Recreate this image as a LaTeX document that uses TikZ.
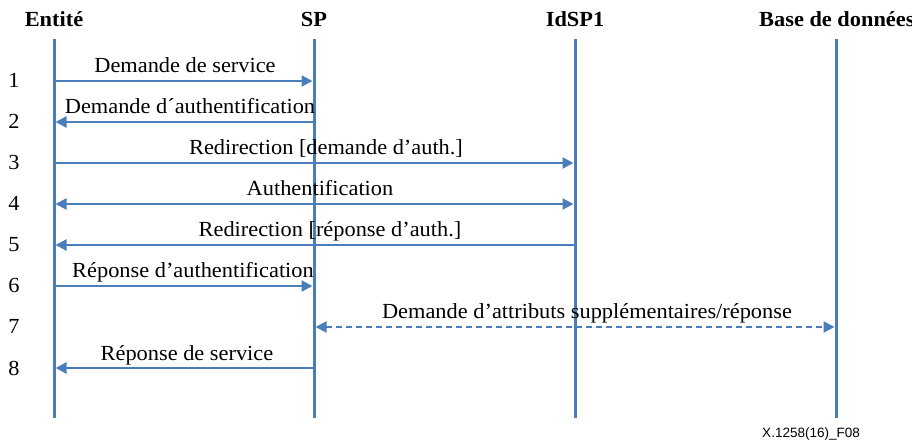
\documentclass[tikz,border=0pt]{standalone}
\usepackage{fontspec}
\setmainfont{Liberation Serif}[FakeStretch=1.04]
\newfontfamily\footfont{Liberation Sans}
\usetikzlibrary{arrows.meta}
\definecolor{seqblue}{HTML}{4A7EBB}
\tikzset{
  lifeline/.style={draw=seqblue, line width=3pt},
  msg/.style={draw=seqblue, line width=2.2pt,
    -{Triangle[length=11pt,width=11pt]}, shorten >=1.5pt},
  msgboth/.style={msg, {Triangle[length=11pt,width=11pt]}-{Triangle[length=11pt,width=11pt]}, shorten <=1.5pt},
  head/.style={font=\fontsize{21.5}{25}\selectfont\bfseries, anchor=base, inner sep=0pt},
  lbl/.style={font=\fontsize{21.5}{25}\selectfont, anchor=base, inner sep=0pt},
  num/.style={font=\fontsize{21.5}{25}\selectfont, anchor=base, inner sep=0pt},
}
\begin{document}
\begin{tikzpicture}[x=1pt, y=-1pt]
  \useasboundingbox (0,0) rectangle (912,443);

  % participant headers
  \node[head] (E) at (54,27) {Entité};
  \node[head] (S) at (314,27) {SP};
  \node[head] (I) at (575,27) {IdSP1};
  \node[head, anchor=base west] (B) at (759,27) {Base de données};

  % lifelines: top and bottom ends
  \foreach \n/\x in {E/54, S/314, I/575, B/836} {
    \coordinate (\n-top) at (\x,39);
    \coordinate (\n-bot) at (\x,418);
    % one point per message row on every lifeline
    \foreach \k in {1,...,8} {
      \coordinate (\n-\k) at (\x,{40+41*\k});
    }
  }
  \foreach \n in {E,S,I,B} {
    \draw[lifeline] (\n-top) -- (\n-bot);
  }

  % step numbers
  \foreach \k in {1,...,8} {
    \node[num] (n\k) at (14,{47+41*\k}) {\k};
  }

  % messages
  \draw[msg] (E-1) -- (S-1);
  \draw[msg] (S-2) -- (E-2);
  \draw[msg] (E-3) -- (I-3);
  \draw[msgboth] (E-4) -- (I-4);
  \draw[msg] (I-5) -- (E-5);
  \draw[msg] (E-6) -- (S-6);
  \draw[msgboth, dashed, dash pattern=on 6pt off 4pt] (S-7) -- (B-7);
  \draw[msg] (S-8) -- (E-8);

  % message labels
  \node[lbl] (m1) at (185,73) {Demande de service};
  \node[lbl] (m2) at (190,114) {Demande d´authentification};
  \node[lbl] (m3) at (326,155) {Redirection [demande d’auth.]};
  \node[lbl] (m4) at (320,196) {Authentification};
  \node[lbl] (m5) at (330,237) {Redirection [réponse d’auth.]};
  \node[lbl] (m6) at (193,278) {Réponse d’authentification};
  \node[lbl] (m7) at (587,319) {Demande d’attributs supplémentaires/réponse};
  \node[lbl] (m8) at (187,360) {Réponse de service};

  % figure reference
  \node[font=\footfont\fontsize{13.5}{15}\selectfont, anchor=base east, inner sep=0pt] (ref) at (860,437) {X.1258(16)\_F08};
\end{tikzpicture}
\end{document}
